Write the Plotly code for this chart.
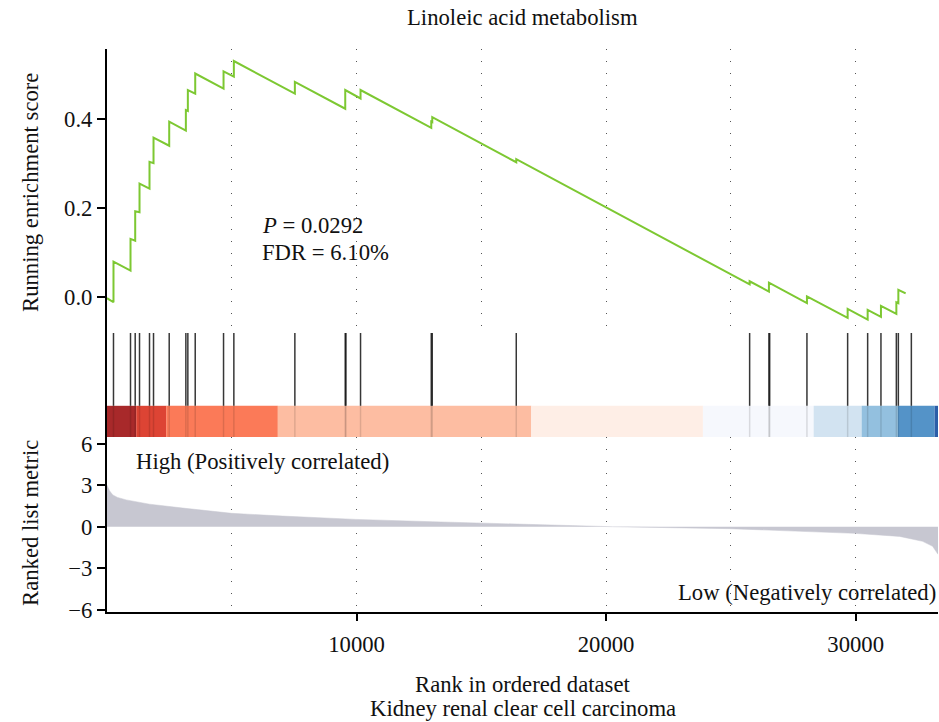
import plotly.graph_objects as go

# ---------------- data ----------------
title_text = "Linoleic acid metabolism"

# running enrichment score curve vertices (rank, score)
es_rank = [0, 260, 260, 942, 942, 1130, 1130, 1303, 1303, 1703, 1703, 1864, 1864,
           2493, 2493, 3160, 3160, 3240, 3240, 3535, 3535, 4670, 4670, 5083, 5083,
           7528, 7528, 9547, 9547, 10160, 10160, 12994, 12994, 13034, 13034,
           16400, 16400, 25752, 25752, 26525, 26525, 28048, 28048, 29679, 29679,
           30481, 30481, 31014, 31014, 31631, 31631, 31711, 31711, 32004]
es_value = [-0.003, -0.012, 0.079, 0.059, 0.130, 0.126, 0.192, 0.190, 0.254, 0.243, 0.303,
            0.300, 0.357, 0.339, 0.393, 0.373, 0.419, 0.417, 0.464, 0.456, 0.501,
            0.467, 0.506, 0.494, 0.529, 0.456, 0.482, 0.422, 0.464, 0.445, 0.464,
            0.379, 0.393, 0.392, 0.403, 0.302, 0.309, 0.028, 0.035, 0.012, 0.032,
            -0.014, 0.001, -0.047, -0.027, -0.051, -0.029, -0.045, -0.020,
            -0.038, -0.012, -0.014, 0.016, 0.008]

# gene-set hit positions (rank)
hit_ranks = [260, 942, 1130, 1303, 1703, 1864, 2493, 3160, 3240, 3535, 4670, 5083,
             7528, 9547, 9575, 10160, 12994, 13034, 16400, 25752, 26525, 26555,
             28048, 29679, 30481, 31014, 31631, 31711, 32232]

# colour band segments (rank boundaries) and colours
band_edges = [0, 1170, 2373, 6846, 17002, 23880, 28317, 30240, 31695, 33166, 33300]
band_colors = ["#a8292a", "#dd4434", "#fb7a58", "#fdbda2", "#feeee6",
               "#f6f8fd", "#d2e3f1", "#93c0df", "#5493c8", "#2b5ea8"]

# ranked list metric (rank, metric)
metric_rank = [0, 40, 100, 232, 420, 770, 1703, 3038, 4990, 7034, 9972, 13046,
               14970, 16533, 19980, 20260, 24950, 29960, 31764, 32685, 33086, 33300]
metric_value = [3.0, 2.8, 2.6, 2.3, 2.12, 1.94, 1.63, 1.35, 0.97, 0.77, 0.53, 0.36,
                0.26, 0.20, 0.05, 0.0, -0.14, -0.48, -0.70, -1.06, -1.42, -2.0]

x_max = 33300
es_ticks = [0.0, 0.2, 0.4]
es_ticktext = ["0.0", "0.2", "0.4"]
metric_ticks = [6, 3, 0, -3, -6]
metric_ticktext = ["6", "3", "0", "\u22123", "\u22126"]
rank_ticks = [10000, 20000, 30000]
rank_ticktext = ["10000", "20000", "30000"]
grid_minor = [5000, 15000, 25000]

p_text = "<i>P</i> = 0.0292"
fdr_text = "FDR = 6.10%"

FONT = "Liberation Serif"
FS = 22.7
TXT = "#111111"

# ---------------- figure ----------------
fig = go.Figure()

# top: running ES
fig.add_trace(go.Scatter(x=es_rank, y=es_value, mode="lines",
                         line=dict(color="#7dc832", width=2),
                         xaxis="x", yaxis="y", hoverinfo="skip"))

# middle: hit lines (white part) and faint through colour band
hx, hy, hx2, hy2 = [], [], [], []
for h in hit_ranks:
    hx += [h, h, None]
    hy += [0.30, 1.0, None]
    hx2 += [h, h, None]
    hy2 += [0.0, 0.30, None]
fig.add_trace(go.Scatter(x=hx, y=hy, mode="lines",
                         line=dict(color="rgba(20,20,20,0.85)", width=1.5),
                         xaxis="x2", yaxis="y2", hoverinfo="skip"))
fig.add_trace(go.Scatter(x=hx2, y=hy2, mode="lines",
                         line=dict(color="rgba(0,0,0,0.12)", width=1.5),
                         xaxis="x2", yaxis="y2", hoverinfo="skip"))

shapes = []
for i, c in enumerate(band_colors):
    shapes.append(dict(type="rect", xref="x2", yref="y2",
                       x0=band_edges[i], x1=band_edges[i + 1], y0=0.0, y1=0.30,
                       fillcolor=c, line=dict(width=0), layer="below"))

# bottom: ranked list metric
fig.add_trace(go.Scatter(x=metric_rank, y=metric_value, mode="lines",
                         fill="tozeroy", fillcolor="#c7c7d1",
                         line=dict(color="#c7c7d1", width=0.5),
                         xaxis="x3", yaxis="y3", hoverinfo="skip"))

H_TOP = (612 - 333) / 563
H_MID = (612 - 437) / 563

grid_common = dict(showgrid=True, gridcolor="#555555", gridwidth=1,
                   griddash="1px,11px")

fig.update_layout(
    width=939, height=722,
    margin=dict(l=107, r=1, t=49, b=110),
    paper_bgcolor="white", plot_bgcolor="white",
    showlegend=False,
    font=dict(family=FONT, size=FS, color=TXT),
    shapes=shapes,
    xaxis=dict(domain=[0, 1], range=[0, x_max], anchor="y",
               tickvals=rank_ticks, showticklabels=False, ticks="",
               zeroline=False, showline=False,
               minor=dict(tickvals=grid_minor, ticks="", **grid_common),
               **grid_common),
    yaxis=dict(domain=[H_TOP, 1], range=[-0.081, 0.556], anchor="x",
               tickvals=es_ticks, ticktext=es_ticktext,
               ticks="outside", ticklen=8, tickwidth=2, tickcolor="black",
               showline=True, linecolor="black", linewidth=2,
               showgrid=False, zeroline=False),
    xaxis2=dict(domain=[0, 1], range=[0, x_max], anchor="y2",
                showticklabels=False, ticks="", showgrid=False,
                zeroline=False, showline=False),
    yaxis2=dict(domain=[H_MID, H_TOP], range=[0, 1], anchor="x2",
                showticklabels=False, ticks="", showgrid=False,
                zeroline=False, showline=True, linecolor="black", linewidth=2),
    xaxis3=dict(domain=[0, 1], range=[0, x_max], anchor="y3",
                tickvals=rank_ticks, ticktext=rank_ticktext,
                ticks="outside", ticklen=7, tickwidth=2, ticklabelstandoff=4,
                tickcolor="black", showline=True, linecolor="black", linewidth=2,
                zeroline=False,
                minor=dict(tickvals=grid_minor, ticks="", **grid_common),
                **grid_common),
    yaxis3=dict(domain=[0, H_MID], range=[-6.17, 6.49], anchor="x3",
                tickvals=metric_ticks, ticktext=metric_ticktext,
                ticks="outside", ticklen=8, tickwidth=2, tickcolor="black",
                showline=True, linecolor="black", linewidth=2,
                showgrid=False, zeroline=False),
)

def px_x(px):
    return (px - 107) / 831

def px_y(py):
    return (612 - py) / 563

ann = [
    dict(text=title_text, x=0.5, y=px_y(17), xref="paper", yref="paper",
         showarrow=False, xanchor="center", yanchor="middle"),
    dict(text="Running enrichment score", x=px_x(30), y=px_y(193),
         xref="paper", yref="paper", showarrow=False, textangle=-90,
         xanchor="center", yanchor="middle"),
    dict(text="Ranked list metric", x=px_x(30), y=px_y(523),
         xref="paper", yref="paper", showarrow=False, textangle=-90,
         xanchor="center", yanchor="middle"),
    dict(text="Rank in ordered dataset", x=0.5, y=px_y(684),
         xref="paper", yref="paper", showarrow=False,
         xanchor="center", yanchor="middle"),
    dict(text="Kidney renal clear cell carcinoma", x=0.5, y=px_y(708),
         xref="paper", yref="paper", showarrow=False,
         xanchor="center", yanchor="middle"),
    dict(text=p_text, x=6150, y=0.161, xref="x", yref="y", showarrow=False,
         xanchor="left", yanchor="middle"),
    dict(text=fdr_text, x=6150, y=0.100, xref="x", yref="y", showarrow=False,
         xanchor="left", yanchor="middle"),
    dict(text="High (Positively correlated)", x=1100, y=4.75, xref="x3", yref="y3",
         showarrow=False, xanchor="left", yanchor="middle"),
    dict(text="Low (Negatively correlated)", x=x_max, y=-4.75, xref="x3",
         yref="y3", showarrow=False, xanchor="right", yanchor="middle"),
]
fig.update_layout(annotations=ann)

fig.write_html("out.html")
